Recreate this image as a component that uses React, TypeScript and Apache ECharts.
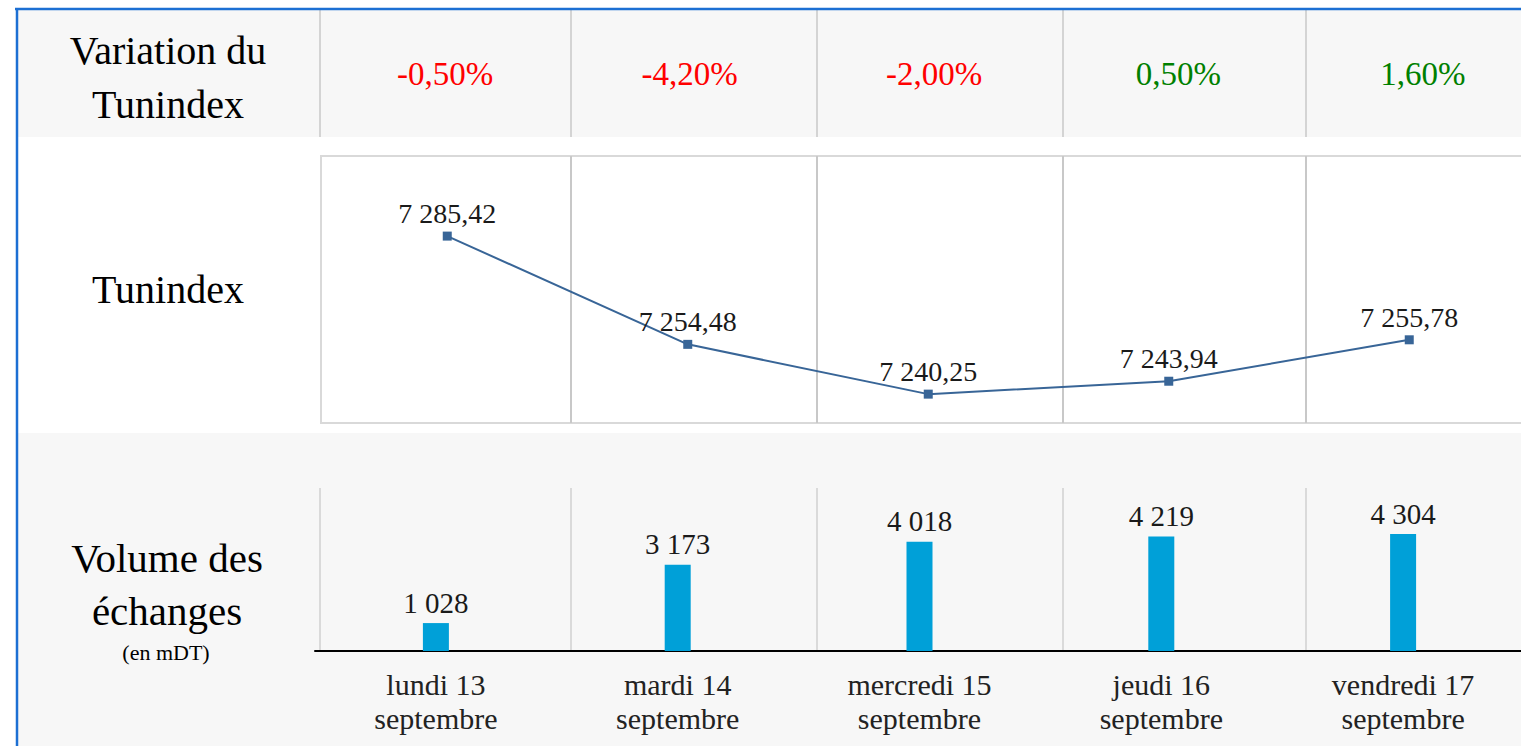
import React, { useEffect, useRef } from "react";
import * as echarts from "echarts";

const days = [
  "lundi 13\nseptembre",
  "mardi 14\nseptembre",
  "mercredi 15\nseptembre",
  "jeudi 16\nseptembre",
  "vendredi 17\nseptembre",
];
const variations = [-0.5, -4.2, -2.0, 0.5, 1.6];
const tunindex = [7285.42, 7254.48, 7240.25, 7243.94, 7255.78];
const volumes = [1028, 3173, 4018, 4219, 4304];
const rowTitles = ["Variation du\nTunindex", "Tunindex", "Volume des\néchanges", "(en mDT)"];

const FONT = "Liberation Serif";
const SEP_X = [320, 571, 817, 1063, 1306];
const CW = 1600;

function fmtFr(v: number, dec: number): string {
  const s = v.toFixed(dec);
  const parts = s.split(".");
  let i = parts[0];
  const neg = i.startsWith("-");
  if (neg) i = i.slice(1);
  const grouped = i.replace(/\B(?=(\d{3})+(?!\d))/g, " ");
  return (neg ? "-" : "") + grouped + (parts[1] ? "," + parts[1] : "");
}

export default function App() {
  const ref = useRef<HTMLDivElement>(null);

  useEffect(() => {
    if (!ref.current) return;
    const chart = echarts.init(ref.current, undefined, { renderer: "svg" });

    const graphics: any[] = [
      { type: "rect", z: -10, shape: { x: 17, y: 10, width: 1580, height: 127 }, style: { fill: "#f7f7f7" } },
      { type: "rect", z: -10, shape: { x: 17, y: 433, width: 1580, height: 320 }, style: { fill: "#f7f7f7" } },
      { type: "rect", z: -9, shape: { x: 321, y: 156, width: 1260, height: 267 }, style: { fill: "#ffffff", stroke: "#d9d9d9", lineWidth: 2 } },
      { type: "line", z: 5, shape: { x1: 15, y1: 9, x2: 1590, y2: 9 }, style: { stroke: "#1c6fd3", lineWidth: 2.5 } },
      { type: "line", z: 5, shape: { x1: 17, y1: 8, x2: 17, y2: 750 }, style: { stroke: "#1c6fd3", lineWidth: 2.5 } },
    ];
    SEP_X.forEach((x) => {
      graphics.push({ type: "line", z: -8, shape: { x1: x, y1: 10, x2: x, y2: 137 }, style: { stroke: "#d4d4d4", lineWidth: 2 } });
      graphics.push({ type: "line", z: -8, shape: { x1: x, y1: 488, x2: x, y2: 651 }, style: { stroke: "#dadada", lineWidth: 2 } });
    });
    SEP_X.slice(1).forEach((x) => {
      graphics.push({ type: "line", z: -8, shape: { x1: x, y1: 156, x2: x, y2: 423 }, style: { stroke: "#c8c8c8", lineWidth: 2 } });
    });
    graphics.push(
      { type: "text", x: 168, y: 77, style: { text: rowTitles[0], fontFamily: FONT, fontSize: 40, fill: "#000", align: "center", verticalAlign: "middle", lineHeight: 54 } },
      { type: "text", x: 168, y: 289, style: { text: rowTitles[1], fontFamily: FONT, fontSize: 40, fill: "#000", align: "center", verticalAlign: "middle" } },
      { type: "text", x: 167, y: 584, style: { text: rowTitles[2], fontFamily: FONT, fontSize: 41, fill: "#000", align: "center", verticalAlign: "middle", lineHeight: 53 } },
      { type: "text", x: 166, y: 652, style: { text: rowTitles[3], fontFamily: FONT, fontSize: 22, fill: "#000", align: "center", verticalAlign: "middle" } }
    );

    const option: any = {
      animation: false,
      backgroundColor: "#ffffff",
      graphic: graphics,
      grid: [
        { left: 323, width: 1222, top: 10, height: 127 },
        { left: 327, width: 1202.5, top: 155, height: 268 },
        { left: 315, width: 1209, top: 488, height: 163 },
      ],
      xAxis: [
        { gridIndex: 0, type: "category", data: days, show: false },
        { gridIndex: 1, type: "category", data: days, show: false },
        {
          gridIndex: 2,
          type: "category",
          data: days,
          axisLine: { lineStyle: { color: "#000", width: 2 } },
          axisTick: { show: false },
          axisLabel: { fontFamily: FONT, fontSize: 30, color: "#222", lineHeight: 34, margin: 16 },
        },
      ],
      yAxis: [
        { gridIndex: 0, type: "value", min: -1, max: 1, show: false },
        { gridIndex: 1, type: "value", min: 7232, max: 7308.6, show: false },
        { gridIndex: 2, type: "value", min: 0, max: 6000, show: false },
      ],
      series: [
        {
          type: "scatter",
          xAxisIndex: 0,
          yAxisIndex: 0,
          symbolSize: 0,
          itemStyle: { opacity: 1 },
          data: variations.map((v) => ({
            value: 0,
            label: { color: v < 0 ? "#ff0000" : "#008000", fontFamily: FONT, fontSize: 33 },
          })),
          label: {
            show: true,
            position: "inside",
            fontFamily: FONT,
            fontSize: 33,
            formatter: (p: any) => fmtFr(variations[p.dataIndex], 2) + "%",
          },
        },
        {
          type: "line",
          xAxisIndex: 1,
          yAxisIndex: 1,
          data: tunindex,
          symbol: "rect",
          symbolSize: 9,
          lineStyle: { color: "#386597", width: 2 },
          itemStyle: { color: "#386597" },
          label: {
            show: true,
            position: "top",
            distance: 4,
            fontFamily: FONT,
            fontSize: 28,
            color: "#1a1a1a",
            formatter: (p: any) => fmtFr(p.value, 2),
          },
        },
        {
          type: "bar",
          xAxisIndex: 2,
          yAxisIndex: 2,
          data: volumes,
          barWidth: 26,
          itemStyle: { color: "#00a0d8" },
          label: {
            show: true,
            position: "top",
            distance: 6,
            fontFamily: FONT,
            fontSize: 29,
            color: "#1a1a1a",
            formatter: (p: any) => fmtFr(p.value, 0),
          },
        },
      ],
    };

    chart.setOption(option);
    return () => chart.dispose();
  }, []);

  return (
    <div style={{ position: "fixed", left: 0, top: 0, width: 1521, height: 746, overflow: "hidden" }}>
      <div ref={ref} style={{ width: CW, height: 746 }} />
    </div>
  );
}
